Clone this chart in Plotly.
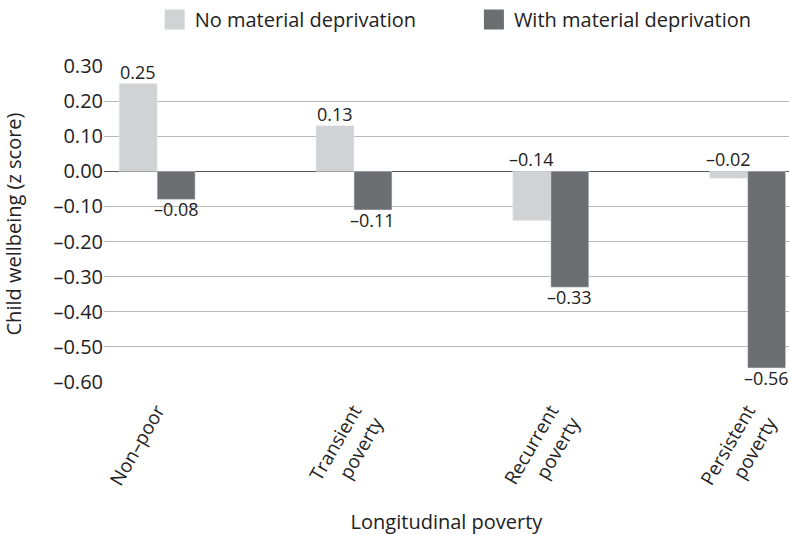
import plotly.graph_objects as go

categories = ["Non–poor", "Transient<br>poverty", "Recurrent<br>poverty", "Persistent<br>poverty"]
no_depr = [0.25, 0.13, -0.14, -0.02]
with_depr = [-0.08, -0.11, -0.33, -0.56]
series_names = ["No material deprivation", "With material deprivation"]
colors = ["#d1d2d4", "#6d6e71"]
tick_vals = [0.3, 0.2, 0.1, 0.0, -0.1, -0.2, -0.3, -0.4, -0.5, -0.6]


def fmt(v):
    s = f"{abs(v):.2f}"
    return ("–" + s) if v < 0 else s


tick_text = [fmt(v) for v in tick_vals]
FONT = "Open Sans"

fig = go.Figure()
fig.add_trace(go.Bar(x=categories, y=no_depr, marker_color=colors[0], name=series_names[0],
                     showlegend=False))
fig.add_trace(go.Bar(x=categories, y=with_depr, marker_color=colors[1], name=series_names[1],
                     showlegend=False))
# legend entries with large square markers, each in its own legend box
for i, (nm, c) in enumerate(zip(series_names, colors)):
    fig.add_trace(go.Scatter(x=[None], y=[None], mode="markers", name=nm,
                             legend="legend" if i == 0 else "legend2",
                             marker=dict(symbol="square", size=22, color=c,
                                         line=dict(width=4, color=c))))

# data labels
annots = []
for cat, v in zip(categories, no_depr):
    annots.append(dict(x=cat, y=max(v, 0), text=fmt(v), showarrow=False, xref="x", yref="y",
                       xshift=-19, yanchor="bottom", yshift=-2,
                       font=dict(size=18, color="#222", family=FONT)))
for cat, v in zip(categories, with_depr):
    annots.append(dict(x=cat, y=v, text=fmt(v), showarrow=False, xref="x", yref="y",
                       xshift=19, yanchor="top", yshift=4,
                       font=dict(size=18, color="#222", family=FONT)))

leg_common = dict(orientation="h", xanchor="left", y=1.21, yanchor="top",
                  font=dict(size=20, family=FONT), itemsizing="trace",
                  bgcolor="rgba(0,0,0,0)")

fig.update_layout(
    width=789, height=535,
    margin=dict(l=104, r=0, t=63, b=153),
    paper_bgcolor="white", plot_bgcolor="white",
    barmode="group", bargap=0.614, bargroupgap=0,
    font=dict(family=FONT, size=20, color="#222"),
    annotations=annots,
    legend=dict(x=0.074, **leg_common),
    legend2=dict(x=0.540, **leg_common),
    xaxis=dict(range=[-0.27, 3.21], showgrid=False, zeroline=False, showline=False,
               tickangle=-60, ticks="outside", ticklen=9, tickcolor="rgba(0,0,0,0)",
               tickfont=dict(size=19, family=FONT),
               title=dict(text="Longitudinal poverty", font=dict(size=20, family=FONT), standoff=18)),
    yaxis=dict(range=[-0.6, 0.3], tickvals=tick_vals, ticktext=tick_text,
               showgrid=True, gridcolor="#b8b8b8", gridwidth=1.2,
               zeroline=True, zerolinecolor="#555555", zerolinewidth=1.3,
               showline=False, ticks="", tickfont=dict(size=20, family=FONT),
               title=dict(text="Child wellbeing (z score)", font=dict(size=20, family=FONT), standoff=26)),
)

fig.write_html("out.html", config={"displayModeBar": False},
               post_script="document.body.style.margin='0';")
